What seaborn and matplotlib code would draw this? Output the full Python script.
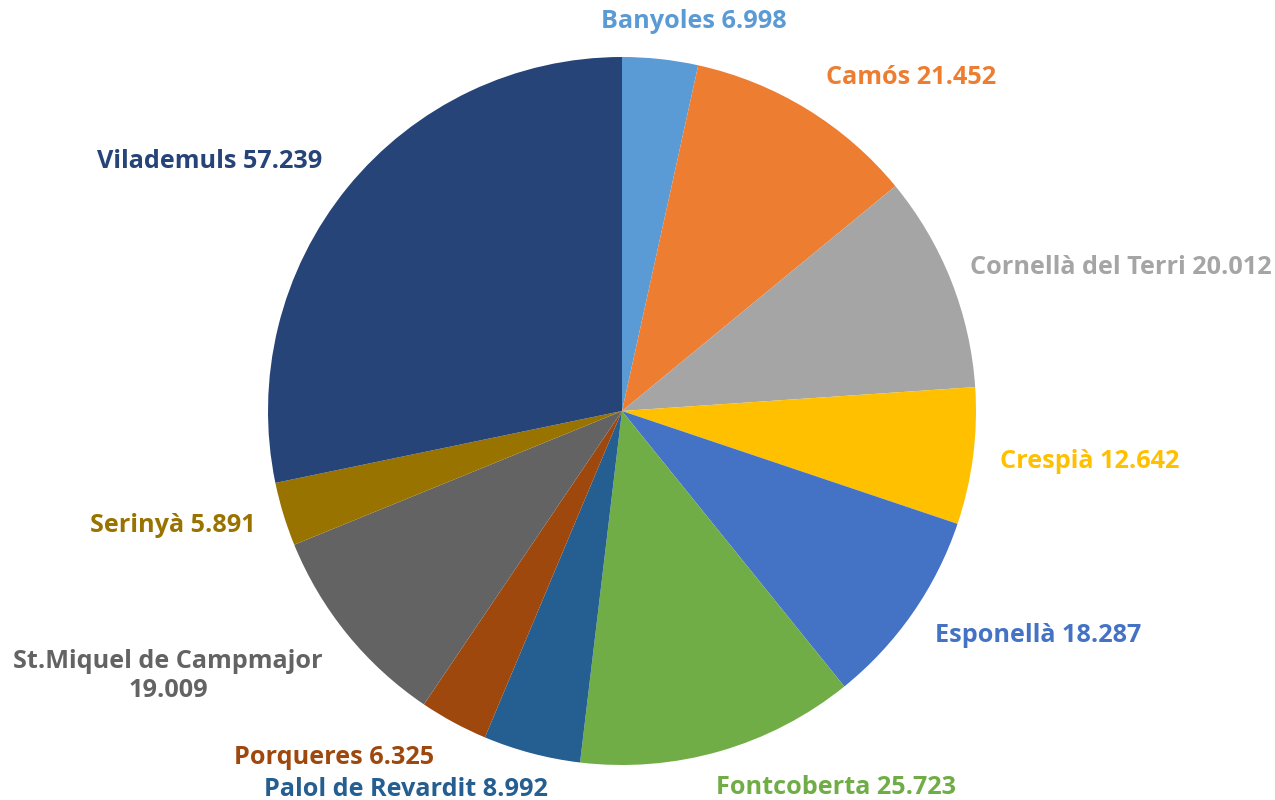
import matplotlib
matplotlib.use("Agg")
import matplotlib.pyplot as plt
import seaborn as sns

municipis = ["Banyoles", "Camós", "Cornellà del Terri", "Crespià", "Esponellà",
             "Fontcoberta", "Palol de Revardit", "Porqueres",
             "St.Miquel de Campmajor", "Serinyà", "Vilademuls"]
valors = [6.998, 21.452, 20.012, 12.642, 18.287, 25.723, 8.992, 6.325, 19.009, 5.891, 57.239]
etiquetes_valor = ["6.998", "21.452", "20.012", "12.642", "18.287", "25.723",
                   "8.992", "6.325", "19.009", "5.891", "57.239"]

colors = ["#5B9BD5", "#ED7D31", "#A5A5A5", "#FFC000", "#4472C4", "#70AD47",
          "#255E91", "#9E480E", "#636363", "#997300", "#264478"]

# label placement (pixel positions in the figure: x, y, horizontal alignment)
label_pos = [(601, 22, "left"), (826, 77, "left"), (1272, 268, "right"),
             (1000, 462, "left"), (935, 636, "left"), (716, 787, "left"),
             (264, 790, "left"), (234, 757, "left"), (168, 676, "center"),
             (90, 526, "left"), (97, 162, "left")]

sns.set_theme(style="white")
plt.rcParams["font.family"] = ["Open Sans", "DejaVu Sans"]

W, H = 1275, 800
fig = plt.figure(figsize=(W / 100, H / 100), dpi=100)
cx, cy, r = 622, 411, 354
ax = fig.add_axes([(cx - r) / W, (H - cy - r) / H, 2 * r / W, 2 * r / H])

sns.set_palette(colors)
ax.pie(valors, colors=colors, startangle=90, counterclock=False,
       radius=1.0, wedgeprops=dict(linewidth=0))
ax.set_xlim(-1, 1)
ax.set_ylim(-1, 1)
ax.set_aspect("equal")
ax.axis("off")

for name, val, col, (px, py, ha) in zip(municipis, etiquetes_valor, colors, label_pos):
    if name.startswith("St.Miquel"):
        txt = f"{name}\n{val}"
    else:
        txt = f"{name} {val}"
    fig.text(px / W, 1 - py / H, txt, color=col, fontsize=18.2, fontweight="bold",
             ha=ha, va="center", linespacing=1.25, multialignment="center")

fig.savefig("out.png", dpi=100, facecolor="white")
